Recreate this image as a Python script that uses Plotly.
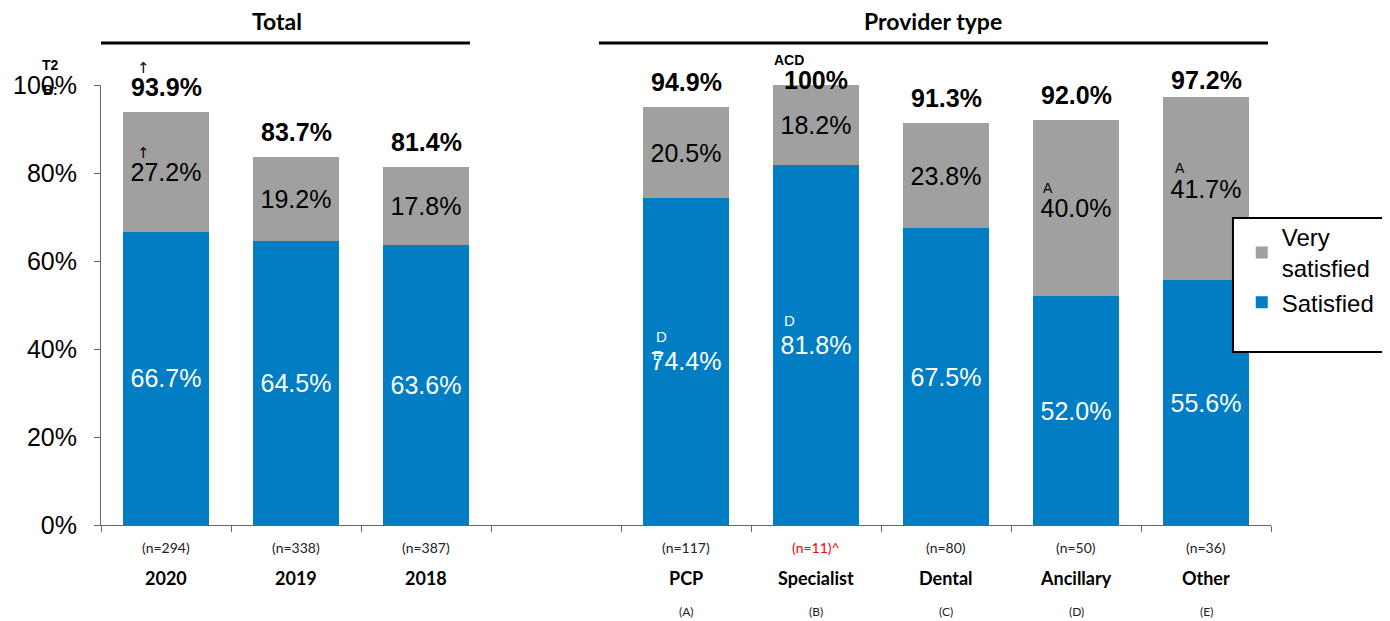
import plotly.graph_objects as go

# ---- data ----
categories = ["2020", "2019", "2018", "PCP", "Specialist", "Dental", "Ancillary", "Other"]
slots = [0, 1, 2, 4, 5, 6, 7, 8]  # slot 3 is the gap between groups
satisfied = [66.7, 64.5, 63.6, 74.4, 81.8, 67.5, 52.0, 55.6]
very_satisfied = [27.2, 19.2, 17.8, 20.5, 18.2, 23.8, 40.0, 41.7]
totals = [93.9, 83.7, 81.4, 94.9, 100, 91.3, 92.0, 97.2]
total_labels = ["93.9%", "83.7%", "81.4%", "94.9%", "100%", "91.3%", "92.0%", "97.2%"]
n_labels = ["(n=294)", "(n=338)", "(n=387)", "(n=117)", "(n=11)^", "(n=80)", "(n=50)", "(n=36)"]
n_colors = ["#222222", "#222222", "#222222", "#222222", "#FF0000", "#222222", "#222222", "#222222"]
letters = ["", "", "", "(A)", "(B)", "(C)", "(D)", "(E)"]
y_ticks = [0, 20, 40, 60, 80, 100]
y_tick_text = ["0%", "20%", "40%", "60%", "80%", "100%"]

BLUE = "#007DC3"
GRAY = "#A0A0A0"
ARIAL = "Liberation Sans, Arial, sans-serif"
CAL = "Lato, Carlito, Calibri, sans-serif"

fig = go.Figure()
fig.add_trace(go.Bar(
    x=slots, y=satisfied, name="Satisfied", marker=dict(color=BLUE, line=dict(width=0)),
    width=0.66, texttemplate="%{y:.1f}%", textposition="inside", insidetextanchor="middle",
    textfont=dict(family=ARIAL, size=25, color="white"), constraintext="none",
))
fig.add_trace(go.Bar(
    x=slots, y=very_satisfied, name="Very<br>satisfied", marker=dict(color=GRAY, line=dict(width=0)),
    width=0.66, texttemplate="%{y:.1f}%", textposition="inside", insidetextanchor="middle",
    textfont=dict(family=ARIAL, size=25, color="black"), constraintext="none",
))

ann = []
for s, t, lab in zip(slots, totals, total_labels):
    ann.append(dict(x=s, y=min(t, 95.5), yshift=25, text=f"<b>{lab}</b>", showarrow=False,
                    font=dict(family=ARIAL, size=25, color="black"), yanchor="middle"))
for s, n, c, cat, let in zip(slots, n_labels, n_colors, categories, letters):
    ann.append(dict(x=s, y=0, yref="y", yshift=-22, text=n, showarrow=False,
                    font=dict(family=CAL, size=14, color=c), yanchor="middle"))
    ann.append(dict(x=s, y=0, yref="y", yshift=-53, text=f"<b>{cat}</b>", showarrow=False,
                    font=dict(family=CAL, size=18, color="black"), yanchor="middle"))
    if let:
        ann.append(dict(x=s, y=0, yref="y", yshift=-86, text=let, showarrow=False,
                        font=dict(family=CAL, size=12, color="#222222"), yanchor="middle"))

# significance markers: (bar index, segment, text, xshift, yshift, color, bold, size)
sig_marks = [
    (0, "total", "↑", -23, 19, "black", False, 15),
    (0, "very", "↑", -23, 19, "black", False, 15),
    (4, "total", "ACD", -27, 20, "black", True, 14),
    (3, "sat", "D", -25, 25, "white", False, 15),
    (3, "sat", "E", -29, 6, "white", False, 13),
    (4, "sat", "D", -27, 25, "white", False, 15),
    (6, "very", "A", -28, 20, "black", False, 14),
    (7, "very", "A", -26, 21, "black", False, 14),
]
for i, seg, txt, xs, ys, col, bold, sz in sig_marks:
    if seg == "total":
        yv = min(totals[i], 95.5); extra = 25
    elif seg == "very":
        yv = satisfied[i] + very_satisfied[i] / 2; extra = 0
    else:
        yv = satisfied[i] / 2; extra = 0
    fam = "DejaVu Sans, sans-serif" if txt == "↑" else ARIAL
    ann.append(dict(x=slots[i], y=yv, xshift=xs, yshift=ys + extra,
                    text=f"<b>{txt}</b>" if bold else txt, showarrow=False,
                    font=dict(family=fam, size=sz, color=col), yanchor="middle"))

# T2B label near top of axis
ann.append(dict(x=-0.5, y=100, xshift=-51, yshift=20, text="<b>T2</b>", showarrow=False,
                font=dict(family=ARIAL, size=14, color="black"), yanchor="middle"))
ann.append(dict(x=-0.5, y=100, xshift=-51, yshift=-5, text="<b>B:</b>", showarrow=False,
                font=dict(family=ARIAL, size=14, color="black"), yanchor="middle"))

# group headers
ann.append(dict(x=0.85, y=100, yshift=64, text="<b>Total</b>", showarrow=False,
                font=dict(family=CAL, size=23, color="black"), yanchor="middle"))
ann.append(dict(x=5.9, y=100, yshift=64, text="<b>Provider type</b>", showarrow=False,
                font=dict(family=CAL, size=23, color="black"), yanchor="middle"))

shapes = [
    dict(type="line", xref="x", yref="paper", x0=-0.638, x1=2.338, y0=1.0955, y1=1.0955,
         line=dict(color="black", width=3)),
    dict(type="line", xref="x", yref="paper", x0=3.33, x1=8.477, y0=1.0955, y1=1.0955,
         line=dict(color="black", width=3)),
    dict(type="rect", xref="paper", yref="paper", x0=0.9675, x1=1.106, y0=0.393, y1=0.698,
         line=dict(color="black", width=2), fillcolor="rgba(255,255,255,1)", layer="above"),
]

# page has an 8px body margin, so the figure is drawn 8px in from the top-left
fig.update_layout(
    width=1382, height=613,
    margin=dict(l=93, r=119, t=77, b=96, autoexpand=False),
    paper_bgcolor="white", plot_bgcolor="white",
    barmode="stack", bargap=0.34,
    showlegend=True,
    legend=dict(x=0.975, y=0.705, xanchor="left", yanchor="top", traceorder="reversed",
                font=dict(family=ARIAL, size=24, color="black"), bgcolor="rgba(0,0,0,0)",
                itemwidth=30, tracegroupgap=2),
    xaxis=dict(range=[-0.5, 8.5], tickvals=[k - 0.5 for k in range(10)], showticklabels=False,
               ticks="outside", ticklen=6, tickcolor="#666666", showline=True, linecolor="#666666",
               linewidth=1, showgrid=False, zeroline=False, fixedrange=True),
    yaxis=dict(range=[0, 100], tickvals=y_ticks, ticktext=y_tick_text, ticks="outside", ticklen=6,
               tickcolor="#666666", showline=True, linecolor="#666666", linewidth=1,
               showgrid=False, zeroline=False, tickfont=dict(family=ARIAL, size=25, color="black"),
               ticklabelstandoff=12),
    annotations=ann, shapes=shapes,
)

fig.write_html("out.html")
